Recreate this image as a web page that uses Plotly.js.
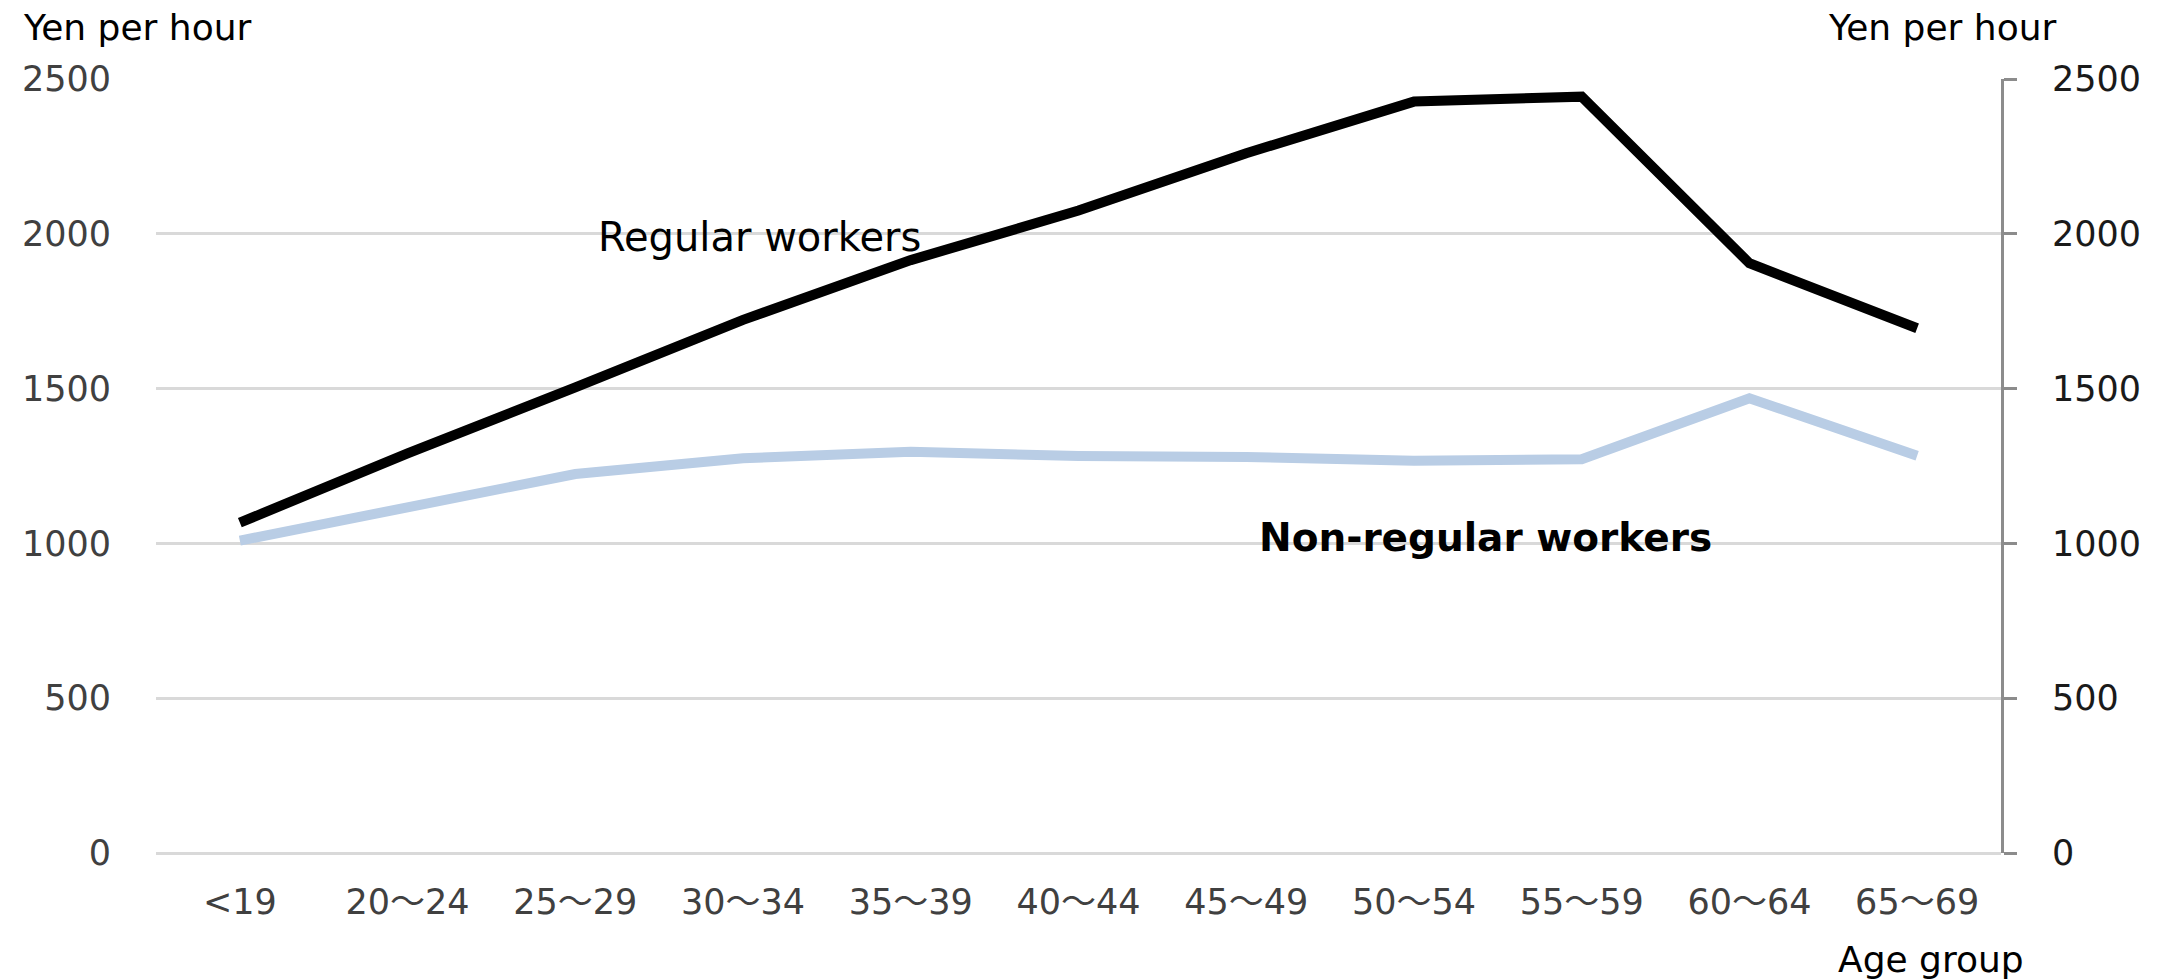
<!DOCTYPE html>
<html>
<head>
<meta charset="utf-8">
<script src="https://cdn.plot.ly/plotly-3.0.1.min.js"></script>
<style>
  html, body { margin: 0; padding: 0; background: #fff; }
  #plotArea { width: 2165px; height: 979px; }
</style>
</head>
<body>
<div id="plotArea"></div>
<script>
// Hourly wage by age group, yen per hour
var ageGroups = ["<19", "20〜24", "25〜29", "30〜34", "35〜39", "40〜44", "45〜49", "50〜54", "55〜59", "60〜64", "65〜69"];
var regularWage = [1067, 1291, 1504, 1722, 1915, 2075, 2260, 2427, 2443, 1905, 1695];
var nonRegularWage = [1009, 1115, 1224, 1275, 1296, 1282, 1279, 1267, 1272, 1469, 1283];
var yTicks = [0, 500, 1000, 1500, 2000, 2500];

var font = "DejaVu Sans, Noto Sans CJK JP, sans-serif";

var regular = {
    x: ageGroups,
    y: regularWage,
    type: "scatter",
    mode: "lines",
    name: "Regular workers",
    line: {color: "#000000", width: 10}
};

var nonRegular = {
    x: ageGroups,
    y: nonRegularWage,
    type: "scatter",
    mode: "lines",
    name: "Non-regular workers",
    yaxis: "y2",
    line: {color: "#B9CDE5", width: 10}
};

var data = [nonRegular, regular];

var layout = {
    width: 2165,
    height: 979,
    margin: {l: 156, r: 164, t: 79, b: 126},
    paper_bgcolor: "#ffffff",
    plot_bgcolor: "#ffffff",
    showlegend: false,
    font: {family: font, color: "#404040"},
    xaxis: {
        type: "category",
        range: [-0.5, 10.5],
        showgrid: false,
        zeroline: false,
        showline: false,
        ticks: "",
        ticklabelstandoff: 25,
        tickfont: {family: font, size: 35, color: "#404040"}
    },
    yaxis: {
        range: [0, 2500],
        tickvals: yTicks,
        showgrid: true,
        gridcolor: "#D9D9D9",
        gridwidth: 3,
        zeroline: true,
        zerolinecolor: "#D9D9D9",
        zerolinewidth: 3,
        showline: false,
        ticks: "",
        ticklabelstandoff: 44,
        tickfont: {family: font, size: 35, color: "#404040"}
    },
    yaxis2: {
        range: [0, 2500],
        tickvals: yTicks,
        overlaying: "y",
        side: "right",
        showgrid: false,
        zeroline: false,
        showline: true,
        linecolor: "#8C8C8C",
        linewidth: 3,
        ticks: "outside",
        ticklen: 13,
        tickwidth: 3,
        tickcolor: "#8C8C8C",
        ticklabelstandoff: 28,
        tickfont: {family: font, size: 35, color: "#1a1a1a"}
    },
    annotations: [
        {text: "Yen per hour", xref: "paper", yref: "paper", x: -0.073, y: 1.067,
         xanchor: "left", yanchor: "middle", showarrow: false,
         font: {family: font, size: 36, color: "#000000"}},
        {text: "Yen per hour", xref: "paper", yref: "paper", x: 1.0315, y: 1.067,
         xanchor: "right", yanchor: "middle", showarrow: false,
         font: {family: font, size: 36, color: "#000000"}},
        {text: "Age group", xref: "paper", yref: "paper", x: 1.0135, y: -0.138,
         xanchor: "right", yanchor: "middle", showarrow: false,
         font: {family: font, size: 36, color: "#000000"}},
        {text: "Regular workers", xref: "paper", yref: "paper", x: 0.2385, y: 0.796,
         xanchor: "left", yanchor: "middle", showarrow: false,
         font: {family: font, size: 40, color: "#000000"}},
        {text: "<b>Non-regular workers</b>", xref: "paper", yref: "paper", x: 0.5965, y: 0.408,
         xanchor: "left", yanchor: "middle", showarrow: false,
         font: {family: font, size: 39, color: "#000000"}}
    ]
};

Plotly.newPlot("plotArea", data, layout, {displayModeBar: false, staticPlot: true});
</script>
</body>
</html>
